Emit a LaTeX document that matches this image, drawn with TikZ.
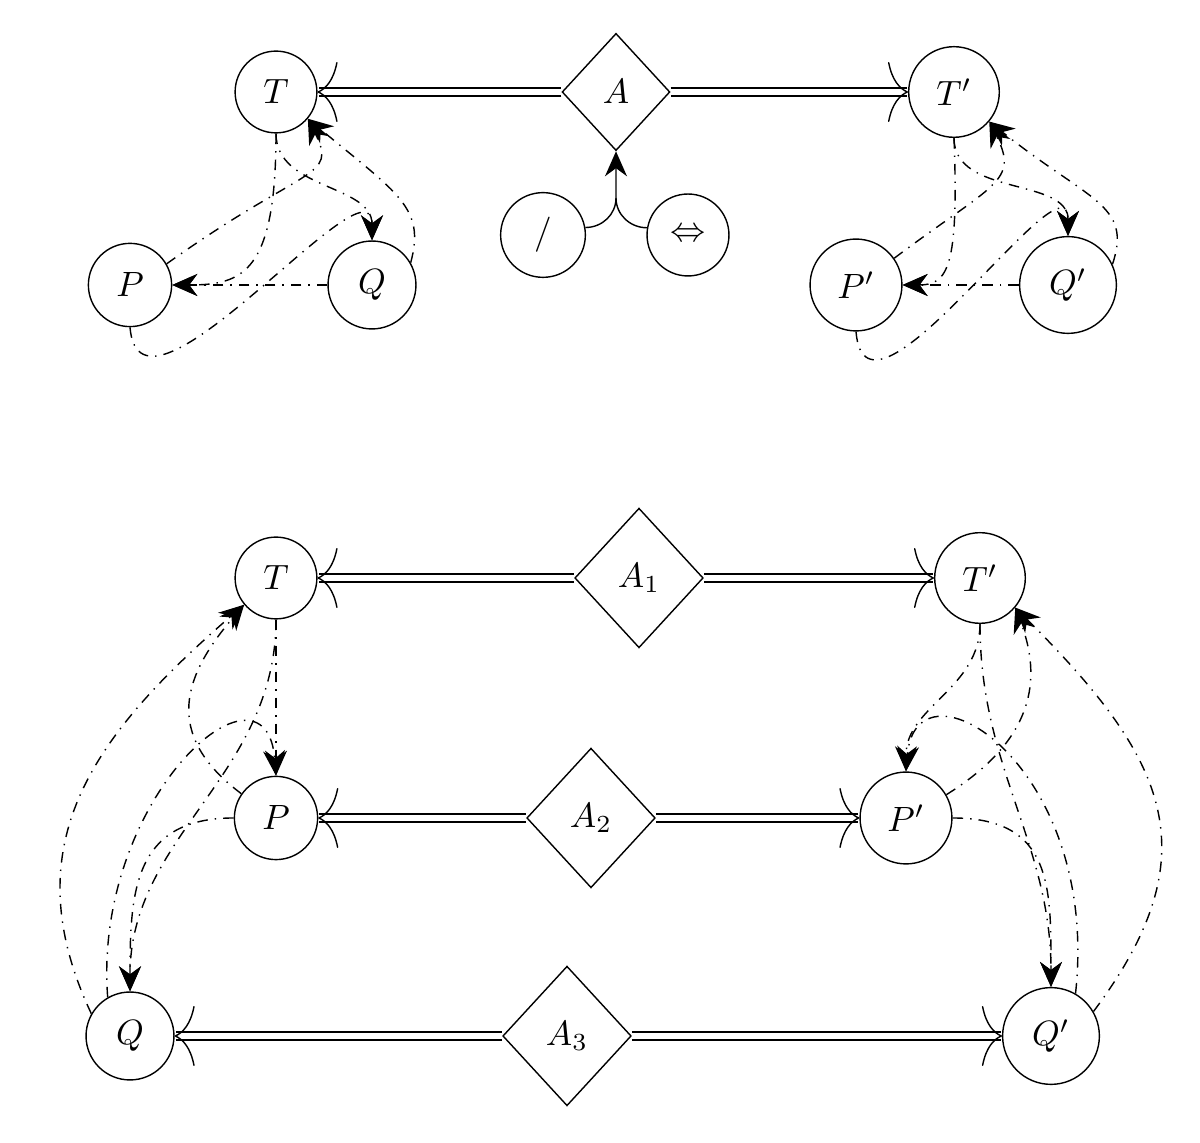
\documentclass[tikz,border=0pt]{standalone}
\usetikzlibrary{shapes.geometric,arrows.meta}
\tikzset{
  obj/.style={draw,circle,inner sep=4.7pt},
  rel/.style={draw,diamond,aspect=0.92,inner sep=4.4pt},
  dbl/.style={preaction={draw,-,solid,double,double distance=1.6pt,line width=0.5pt,shorten >=0.3pt},
    dash pattern=on 0pt off 100cm,
    -{Computer Modern Rightarrow[length=2mm,width=6mm,line width=0.4pt]}},
  mor/.style={dash dot,-{Stealth[length=2.5mm,width=2.2mm]}}
}
\begin{document}
\begin{tikzpicture}
\useasboundingbox (0,0) rectangle (12,11.43);
% upper part
\node[obj] (T)   at (2.76,10.51) {$T$};
\node[rel] (A)   at (6.16,10.51) {$A$};
\node[obj] (Tp)  at (9.54,10.51) {$T'$};
\node[obj] (sl)  at (5.43,9.08)  {$/$};
\node[obj] (iff) at (6.88,9.08)  {$\Leftrightarrow$};
\node[obj] (P)   at (1.30,8.58)  {$P$};
\node[obj] (Q)   at (3.72,8.58)  {$Q$};
\node[obj] (Pp)  at (8.56,8.58)  {$P'$};
\node[obj] (Qp)  at (10.68,8.58) {$Q'$};
\coordinate (J) at (6.16,9.45);

\draw[dbl] (A) -- (T);
\draw[dbl] (A) -- (Tp);
\draw[-{Stealth[length=2.5mm,width=2.2mm]}] (sl.10) to[out=0,in=-90] (J) -- (A.south);
\draw (iff.170) to[out=180,in=-90] (J);

\draw[mor] (T.south) to[out=-90,in=90] (Q.north);
\draw[mor] (T.south) .. controls +(0,-1.4) and +(0.7,0) .. (P.east);
\draw[mor] (Q) -- (P);
\draw[mor] (Q.30) .. controls +(0.15,0.55) and +(0.9,-0.75) .. (T.-40);
\draw[mor] (P.30) .. controls +(1.4,1.0) and +(0.3,-0.6) .. (T.-40);
\draw[mor] (P.south) .. controls +(0.1,-1.2) and +(0,0.9) .. (Q.north);

\draw[mor] (Tp.south) to[out=-90,in=90] (Qp.north);
\draw[mor] (Tp.south) .. controls +(0.05,-1.3) and +(0.45,0) .. (Pp.east);
\draw[mor] (Qp) -- (Pp);
\draw[mor] (Qp.25) .. controls +(0.2,0.6) and +(1.0,-0.8) .. (Tp.-40);
\draw[mor] (Pp.35) .. controls +(1.0,0.75) and +(0.3,-0.6) .. (Tp.-40);
\draw[mor] (Pp.south) .. controls +(0.1,-1.2) and +(0,0.9) .. (Qp.north);

% lower part
\node[obj] (Tb)  at (2.76,5.65)  {$T$};
\node[rel] (A1)  at (6.39,5.65)  {$A_1$};
\node[obj] (Tbp) at (9.80,5.65)  {$T'$};
\node[obj] (Pb)  at (2.76,3.25)  {$P$};
\node[rel] (A2)  at (5.91,3.25)  {$A_2$};
\node[obj] (Pbp) at (9.06,3.25)  {$P'$};
\node[obj] (Qb)  at (1.30,1.07)  {$Q$};
\node[rel] (A3)  at (5.67,1.07)  {$A_3$};
\node[obj] (Qbp) at (10.51,1.07) {$Q'$};

\draw[dbl] (A1) -- (Tb);
\draw[dbl] (A1) -- (Tbp);
\draw[dbl] (A2) -- (Pb);
\draw[dbl] (A2) -- (Pbp);
\draw[dbl] (A3) -- (Qb);
\draw[dbl] (A3) -- (Qbp);

\draw[mor] (Tb) -- (Pb);
\draw[mor] (Tb.south) to[out=-90,in=90] (Qb.north);
\draw[mor] (Pb.west) .. controls +(-1.0,0) and +(0,1.0) .. (Qb.north);
\draw[mor] (Qb.120) .. controls +(-0.15,2.0) and +(-0.1,1.3) .. (Pb.north);
\draw[mor] (Qb.150) .. controls +(-0.8,1.7) and +(-1.5,-1.3) .. (Tb.-140);
\draw[mor] (Pb.145) .. controls +(-0.8,0.6) and +(-0.6,-0.7) .. (Tb.-140);

\draw[mor] (Tbp.south) to[out=-90,in=90] (Pbp.north);
\draw[mor] (Tbp.south) to[out=-90,in=90] (Qbp.north);
\draw[mor] (Pbp.east) .. controls +(1.0,0) and +(0,1.0) .. (Qbp.north);
\draw[mor] (Qbp.60) .. controls +(0.25,2.3) and +(0.1,1.2) .. (Pbp.north);
\draw[mor] (Pbp.30) .. controls +(0.8,0.5) and +(0.3,-0.8) .. (Tbp.-40);
\draw[mor] (Qbp.30) .. controls +(1.2,1.6) and +(1.5,-1.5) .. (Tbp.-40);
\end{tikzpicture}
\end{document}
